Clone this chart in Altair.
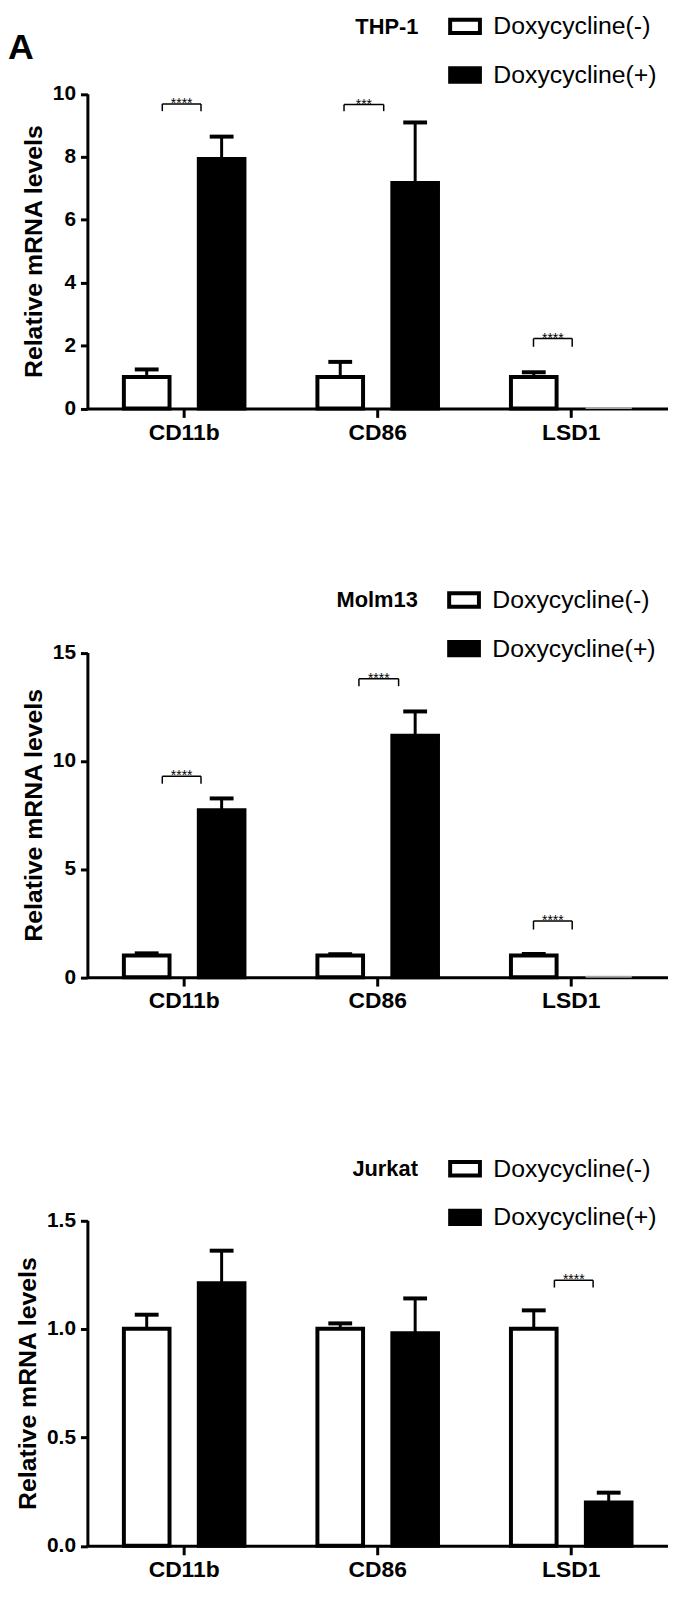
import altair as alt
import pandas as pd

genes = ["CD11b", "CD86", "LSD1"]
groups = ["Doxycycline(-)", "Doxycycline(+)"]
panel_letter = ["A"]

# THP-1
thp1_minus = [1.0, 1.0, 1.0]
thp1_minus_err = [0.24, 0.48, 0.15]
thp1_plus = [7.93, 7.17, 0.03]
thp1_plus_err = [0.71, 1.92, 0.0]
# Molm13
molm13_minus = [1.0, 1.0, 1.0]
molm13_minus_err = [0.10, 0.06, 0.07]
molm13_plus = [7.71, 11.16, 0.04]
molm13_plus_err = [0.55, 1.12, 0.0]
# Jurkat
jurkat_minus = [1.0, 1.0, 1.0]
jurkat_minus_err = [0.065, 0.025, 0.085]
jurkat_plus = [1.21, 0.98, 0.20]
jurkat_plus_err = [0.15, 0.16, 0.045]

# significance brackets (gene, stars, bracket top, tip end, start/end within the gene's band)
thp1_sig_gene = ["CD11b", "CD86", "LSD1"]
thp1_sig_text = ["****", "***", "****"]
thp1_sig_top = [9.68, 9.66, 2.22]
thp1_sig_tip = [9.45, 9.45, 1.96]
thp1_sig_from = [0.387, 0.326, 0.305]
thp1_sig_to = [0.587, 0.531, 0.505]

molm13_sig_gene = ["CD11b", "CD86", "LSD1"]
molm13_sig_text = ["****", "****", "****"]
molm13_sig_top = [9.28, 13.79, 2.60]
molm13_sig_tip = [8.94, 13.45, 2.20]
molm13_sig_from = [0.387, 0.403, 0.305]
molm13_sig_to = [0.587, 0.608, 0.505]

jurkat_sig_gene = ["LSD1"]
jurkat_sig_text = ["****"]
jurkat_sig_top = [1.224]
jurkat_sig_tip = [1.19]
jurkat_sig_from = [0.413]
jurkat_sig_to = [0.613]

FONT = "Liberation Sans"
W = 585

XSCALE = alt.Scale(domain=genes, paddingInner=0, paddingOuter=0)
XAXIS = alt.Axis(title=None, domain=True, domainColor="black", domainWidth=3,
                 labelAngle=0, ticks=True, tickSize=9, tickWidth=3, tickColor="black",
                 labelFont=FONT, labelFontSize=23, labelFontWeight="bold",
                 labelColor="black", labelPadding=4, grid=False)
XOFF = alt.XOffset("group:N", sort=groups,
                   scale=alt.Scale(domain=groups, paddingInner=0.3907, paddingOuter=0.4868))


def xenc(bp=None):
    if bp is None:
        return alt.X("gene:N", sort=genes, scale=XSCALE, axis=XAXIS)
    return alt.X("gene:N", sort=genes, scale=XSCALE, axis=XAXIS, bandPosition=bp)


def panel(name, minus, minus_err, plus, plus_err, ymax, ticks, fmt, height, top_gap,
          sg, st, stop, stip, sfrom, sto, lx, letter=False):
    rows = []
    for i, g in enumerate(genes):
        rows.append({"gene": g, "group": groups[0], "mean": minus[i], "err": minus_err[i]})
        rows.append({"gene": g, "group": groups[1], "mean": plus[i], "err": plus_err[i]})
    df = pd.DataFrame(rows)

    total_h = height + top_gap
    yscale = alt.Scale(domain=[0, ymax], range=[total_h, top_gap], nice=False, zero=True)
    yaxis = alt.Axis(values=ticks, format=fmt, title="Relative mRNA levels",
                     titleFont=FONT, titleFontSize=25, titleFontWeight="bold",
                     titleColor="black", titlePadding=6, labelFont=FONT, labelFontSize=21,
                     labelFontWeight="bold", labelColor="black", labelPadding=5,
                     tickSize=7, tickWidth=3, tickColor="black", domainColor="black",
                     domainWidth=3, grid=False)

    def yenc(field):
        return alt.Y(f"{field}:Q", scale=yscale, axis=yaxis)

    base = alt.Chart(df).transform_calculate(hi="datum.mean + datum.err")

    bars = base.transform_filter(alt.datum.mean >= 0.1).mark_bar(
        stroke="black", strokeWidth=4
    ).encode(
        x=xenc(), xOffset=XOFF, y=yenc("mean"),
        fill=alt.Fill("group:N", sort=groups,
                      scale=alt.Scale(domain=groups, range=["white", "black"]),
                      legend=alt.Legend(
                          title=name, orient="none", legendX=lx, legendY=0,
                          direction="vertical", titleOrient="left", titleAnchor="start",
                          titleBaseline="line-top", titleLineHeight=28,
                          titleFont=FONT, titleFontSize=22, titleFontWeight="bold",
                          titleColor="black", titlePadding=34,
                          labelFont=FONT, labelFontSize=25, labelColor="black",
                          labelLimit=0,
                          symbolType="M-1.5,-0.675H1.5V0.675H-1.5Z", symbolSize=400,
                          symbolStrokeColor="black", symbolStrokeWidth=4,
                          rowPadding=18, labelOffset=16, padding=0)),
    )
    tiny = base.transform_filter(alt.datum.mean < 0.1).mark_bar(
        fill="#a8a8a8", stroke="#a8a8a8", strokeWidth=1
    ).encode(x=xenc(), xOffset=XOFF, y=yenc("mean"))

    errs = base.transform_filter(alt.datum.err > 0)
    err_line = errs.mark_rule(color="black", strokeWidth=3).encode(
        x=xenc(), xOffset=XOFF, y=yenc("mean"), y2="hi:Q")
    err_cap = errs.mark_tick(color="black", size=24, thickness=4, opacity=1,
                             orient="horizontal").encode(
        x=xenc(), xOffset=XOFF, y=yenc("hi"))

    layers = [bars, tiny, err_line, err_cap]

    for i in range(len(sg)):
        d = pd.DataFrame({"gene": [sg[i]], "label": [st[i]],
                          "btop": [stop[i]], "btip": [stip[i]]})
        c = alt.Chart(d)
        layers.append(c.mark_rule(color="black", strokeWidth=1.5).encode(
            x=xenc(sfrom[i]), x2=alt.X2("gene", bandPosition=sto[i]), y=yenc("btop")))
        layers.append(c.mark_rule(color="black", strokeWidth=1.5).encode(
            x=xenc(sfrom[i]), y=yenc("btop"), y2="btip:Q"))
        layers.append(c.mark_rule(color="black", strokeWidth=1.5).encode(
            x=xenc(sto[i]), y=yenc("btop"), y2="btip:Q"))
        layers.append(c.mark_text(font=FONT, fontSize=14, color="black",
                                  baseline="alphabetic", dy=4).encode(
            x=xenc((sfrom[i] + sto[i]) / 2), y=yenc("btop"), text="label:N"))

    if letter:
        layers.append(alt.Chart(pd.DataFrame({"t": panel_letter})).mark_text(
            font=FONT, fontSize=36, fontWeight="bold", color="black",
            align="left", baseline="alphabetic"
        ).encode(x=alt.value(-80), y=alt.value(45), text="t:N"))

    return alt.layer(*layers).properties(width=W, height=total_h)


p1 = panel("THP-1", thp1_minus, thp1_minus_err, thp1_plus, thp1_plus_err,
           10, [0, 2, 4, 6, 8, 10], "d", 317, 80.5,
           thp1_sig_gene, thp1_sig_text, thp1_sig_top, thp1_sig_tip,
           thp1_sig_from, thp1_sig_to, 270, letter=True)
p2 = panel("Molm13", molm13_minus, molm13_minus_err, molm13_plus, molm13_plus_err,
           15, [0, 5, 10, 15], "d", 327, 65.5,
           molm13_sig_gene, molm13_sig_text, molm13_sig_top, molm13_sig_tip,
           molm13_sig_from, molm13_sig_to, 251)
p3 = panel("Jurkat", jurkat_minus, jurkat_minus_err, jurkat_plus, jurkat_plus_err,
           1.5, [0, 0.5, 1.0, 1.5], ".1f", 328, 64.5,
           jurkat_sig_gene, jurkat_sig_text, jurkat_sig_top, jurkat_sig_tip,
           jurkat_sig_from, jurkat_sig_to, 267)

chart = alt.vconcat(
    p1, p2, p3, spacing=144,
).resolve_scale(
    fill="independent", y="independent"
).resolve_legend(
    fill="independent"
).resolve_axis(
    x="independent", y="independent"
).properties(
    padding=0,
    background="white",
).configure_view(stroke=None)

chart.save("out.html", embed_options={"renderer": "svg", "actions": False})
